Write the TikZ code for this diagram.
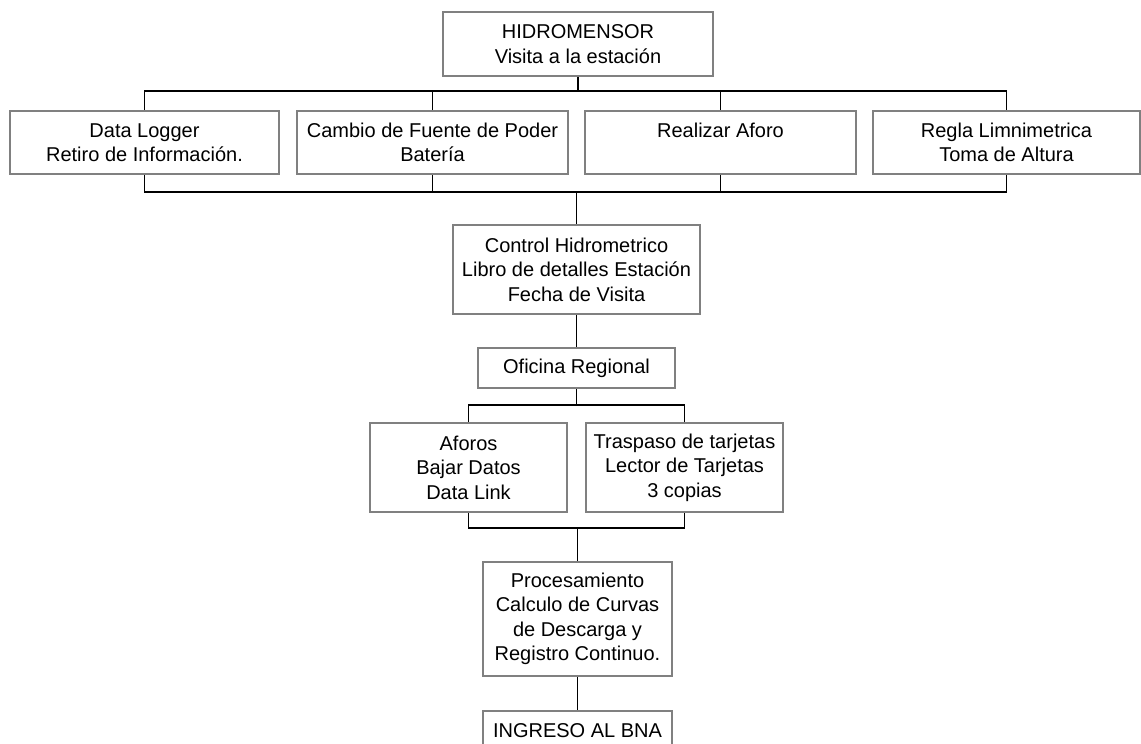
\documentclass[tikz,border=0pt]{standalone}
\usepackage{fontspec}
\setmainfont{Liberation Sans}
\usepackage{tikz}
\definecolor{boxgray}{RGB}{128,128,128}
\tikzset{
  x=1pt, y=1pt,
}
\tikzstyle{box}=[draw=boxgray,line width=2.4pt,fill=white,align=center,inner sep=1pt,font=\fontsize{20}{24.5}\selectfont]
\tikzstyle{link}=[line width=1.2pt]

\begin{document}
\begin{tikzpicture}
    \useasboundingbox (0,0) rectangle (1141,744);
    \node[box,minimum width=270,minimum height=64] (hidro) at (578,700) {HIDROMENSOR\\Visita a la estación};
    \node[box,minimum width=269,minimum height=63] (logger) at (144.5,601.5) {Data Logger\\Retiro de Información.};
    \node[box,minimum width=271,minimum height=63] (fuente) at (432.5,601.5) {Cambio de Fuente de Poder\\Batería};
    \node[box,minimum width=271,minimum height=63] (aforo) at (720.5,601.5) {Realizar Aforo\\ \mbox{}};
    \node[box,minimum width=267,minimum height=63] (regla) at (1006.5,601.5) {Regla Limnimetrica\\Toma de Altura};
    \node[box,minimum width=247,minimum height=89] (control) at (576.5,474.5) {Control Hidrometrico\\Libro de detalles Estación\\Fecha de Visita};
    \node[box,minimum width=197,minimum height=40] (oficina) at (576.5,376) {Oficina Regional};
    \node[box,minimum width=197,minimum height=89] (aforos) at (468.5,276.5) {Aforos\\Bajar Datos\\Data Link};
    \node[box,minimum width=197,minimum height=89] (traspaso) at (684.5,276.5) {Traspaso de tarjetas\\Lector de Tarjetas\\3 copias};
    \node[box,minimum width=189,minimum height=114] (proc) at (577.5,125) {Procesamiento\\Calculo de Curvas\\de Descarga y\\Registro Continuo.};
    \node[box,minimum width=189,minimum height=40] (ingreso) at (577.5,13) {INGRESO AL BNA};

    \coordinate (topbus) at (0,653);
    \coordinate (botbus) at (0,552);
    \coordinate (midbus) at (0,339);
    \coordinate (lowbus) at (0,216);

    \draw[link] (hidro.south) -- (hidro.south |- topbus);
    \draw[link] (logger.north) -- (logger.north |- topbus) -- (regla.north |- topbus) -- (regla.north);
    \foreach \n in {fuente,aforo}
      \draw[link] (\n.north) -- (\n.north |- topbus);
    \draw[link] (logger.south) -- (logger.south |- botbus) -- (regla.south |- botbus) -- (regla.south);
    \foreach \n in {fuente,aforo}
      \draw[link] (\n.south) -- (\n.south |- botbus);
    \draw[link] (control.north) -- (control.north |- botbus);
    \draw[link] (control.south) -- (oficina.north);
    \draw[link] (oficina.south) -- (oficina.south |- midbus);
    \draw[link] (aforos.north) -- (aforos.north |- midbus) -- (traspaso.north |- midbus) -- (traspaso.north);
    \draw[link] (aforos.south) -- (aforos.south |- lowbus) -- (traspaso.south |- lowbus) -- (traspaso.south);
    \draw[link] (proc.north) -- (proc.north |- lowbus);
    \draw[link] (proc.south) -- (ingreso.north);
  \end{tikzpicture}
\end{document}
